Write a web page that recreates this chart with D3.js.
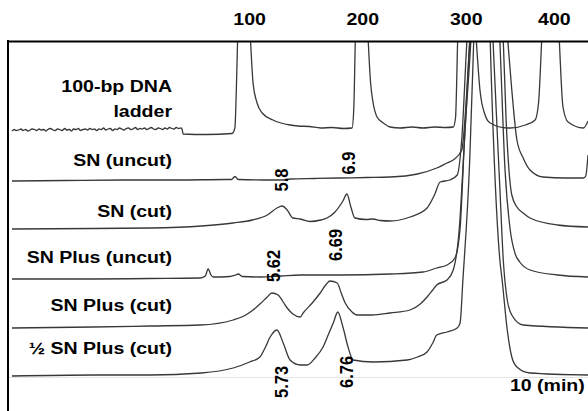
<!DOCTYPE html>
<html>
<head>
<meta charset="utf-8">
<script src="https://cdn.jsdelivr.net/npm/d3@7"></script>
<style>
  body { margin: 0; background: #fff; }
  text { font-family: "Liberation Sans", Arial, sans-serif; font-weight: bold; fill: #000; }
</style>
</head>
<body>
<svg id="chart" width="588" height="411"></svg>
<script>
// ladder peak sizes (bp) and the time (min) each sits at
var bpLabels = [100, 200, 300, 400];
var bpTimes = [5.24, 7.23, 9.05, 10.6];

var traceNames = [["100-bp DNA", "ladder"], ["SN (uncut)"], ["SN (cut)"], ["SN Plus (uncut)"], ["SN Plus (cut)"], ["\u00bd SN Plus (cut)"]];
// vertical stacking offset of each trace, signal units
var traceOffsets = [246, 196, 147, 97, 48, 1];
var labelLevels = [[284, 259], [210], [159], [113], [65], [22]];

// [time (min), signal]
var ladder = [[1.07,-1],[1.11,0.5],[1.14,-0.5],[1.19,0],[1.23,1],[1.26,-0.5],[1.31,0.5],[1.35,-1],[1.39,0],[1.42,1],
  [1.47,0.5],[1.5,-0.5],[1.55,1],[1.58,0],[1.63,0.5],[1.67,-1],[1.7,0.5],[1.75,1.5],[1.79,0],[1.83,-0.5],[1.87,1],
  [1.91,0.5],[1.95,-0.5],[2.0,1.5],[2.03,0],[2.08,0.5],[2.12,-1],[2.15,1],[2.2,0.5],[2.24,1.5],[2.27,-0.5],[2.32,0.5],
  [2.36,1],[2.4,0],[2.44,1.5],[2.48,0.5],[2.52,1],[2.56,-0.5],[2.6,1],[2.64,0.5],[2.68,2],[2.72,0],[2.76,1],[2.8,1.5],
  [2.84,-0.5],[2.88,1],[2.92,0.5],[2.96,2],[3.0,1],[3.04,0],[3.08,1.5],[3.12,2],[3.16,0.5],[3.2,1],[3.24,2.5],
  [3.28,0.5],[3.32,1.5],[3.36,1],[3.4,2],[3.44,0.5],[3.48,1.5],[3.52,2.5],[3.56,1],[3.6,0.5],[3.64,2],[3.68,1.5],
  [3.72,0.5],[3.76,2],[3.8,1],[3.84,2.5],[3.88,1.5],[3.92,1],[3.96,2.5],[4.0,1.5],[4.04,2],[4.06,1],[4.08,-4],
  [4.5,-4.5],[4.94,-3.5],[4.99,2],[5.02,50],[5.04,95],[5.14,250],[5.26,95],[5.31,47],[5.38,27],[5.47,17],[5.66,10],
  [5.96,5],[6.1,4],[6.3,3.5],[6.5,2],[6.7,2.5],[6.9,1.5],[7.05,2],[7.08,20],[7.11,95],[7.22,250],[7.33,95],[7.38,45],
  [7.49,13],[7.6,7],[7.72,3],[7.9,2],[8.1,3],[8.3,2],[8.5,3],[8.7,2.5],[8.83,3],[8.87,12],[8.91,95],[9.07,280],
  [9.23,95],[9.3,40],[9.39,15],[9.48,7],[9.78,2],[9.83,2],[10.1,5],[10.27,10],[10.33,27],[10.39,95],[10.53,250],
  [10.69,95],[10.76,23],[10.85,8],[11.12,2],[11.2,9]];

var snUncut = [[1.07,-1],[2.0,-0.5],[3.0,0],[4.0,0],[4.82,0.5],[4.93,0.5],[4.99,3.5],[5.05,0.5],[5.5,0],[5.84,0],
  [5.96,1],[6.4,1.5],[6.84,2],[7.3,2.5],[7.72,3],[8.2,6],[8.54,12],[8.72,17],[8.83,20],[8.98,30],[9.07,90],[9.12,139],
  [9.45,420],[9.79,139],[9.86,90],[9.95,40],[10.06,22],[10.18,10],[10.41,3],[10.8,2],[11.12,2],[11.16,4],[11.2,25]];

var snCut = [[1.07,0],[2.5,0.5],[3.5,1],[4.4,3],[4.96,6],[5.3,9],[5.56,14],[5.73,21],[5.82,23],[5.91,19],[6.01,11],
  [6.14,10],[6.31,7.5],[6.5,9],[6.61,11],[6.75,17],[6.89,28],[6.96,35],[7.03,22],[7.1,11],[7.3,9.5],[7.42,10],
  [7.55,8.5],[7.72,8],[8.07,12],[8.37,21],[8.5,34],[8.6,47],[8.77,49],[8.9,54],[8.98,90],[9.07,188],[9.4,380],
  [9.71,188],[9.76,109],[9.81,59],[9.86,34],[9.95,22],[10.06,16],[10.18,11],[10.66,4],[11.2,2]];

var snPlusUncut = [[1.07,0],[2.5,0],[3.5,0.5],[4.38,1],[4.47,3],[4.52,10],[4.57,4],[4.61,2],[4.9,2.5],[5.0,4],
  [5.05,5],[5.12,2.5],[5.43,2],[5.8,3],[6.14,4],[6.84,4],[7.72,5],[8.3,7],[8.54,11],[8.72,14],[8.86,21],[8.95,50],
  [9.02,130],[9.12,238],[9.4,480],[9.65,238],[9.74,110],[9.83,50],[9.92,25],[10.0,17],[10.18,9],[10.66,4],[11.2,2]];

var snPlusCut = [[1.07,0],[2.5,1],[3.5,2],[4.38,3],[4.96,8],[5.15,12],[5.31,18],[5.45,25],[5.56,31],[5.64,35],
  [5.75,33],[5.84,26],[5.91,20],[6.01,14],[6.14,11],[6.19,15],[6.35,25],[6.49,35],[6.6,44],[6.66,47],[6.79,45],
  [6.86,35],[6.93,25],[7.05,16],[7.14,13],[7.4,13],[7.72,15],[8.07,18],[8.25,24],[8.37,31],[8.47,38],[8.54,43],
  [8.72,48],[8.83,58],[8.93,95],[9.04,200],[9.14,287],[9.35,560],[9.53,287],[9.65,140],[9.71,68],[9.78,28],
  [9.86,13],[10.06,3],[11.2,0]];

var halfSnPlusCut = [[1.07,-1],[2.5,0],[3.5,0],[4.4,2],[4.96,7],[5.25,13],[5.43,18],[5.52,27],[5.61,38],[5.73,45],
  [5.84,32],[5.96,15],[6.14,10],[6.26,10],[6.4,17],[6.54,28],[6.63,40],[6.72,52],[6.8,63],[6.89,48],[6.98,28],
  [7.07,15],[7.42,13],[8.02,15],[8.2,18],[8.37,23],[8.47,32],[8.54,40],[8.72,43],[8.9,47],[8.95,52],[9.0,95],
  [9.12,215],[9.19,334],[9.35,650],[9.48,334],[9.65,115],[9.69,95],[9.78,45],[9.86,18],[9.95,8],[10.18,2],[11.2,0]];

var traces = [ladder, snUncut, snCut, snPlusUncut, snPlusCut, halfSnPlusCut];

// migration times written on the peaks, where each label sits
var peakLabels = ["5.8", "6.9", "5.62", "6.69", "5.73", "6.76"];
var peakLabelTimes = [5.82, 7.0, 5.67, 6.76, 5.82, 6.96];
var peakLabelLevels = [196, 213, 110, 131, -6, 4];

var svg = d3.select("#chart"),
  width = +svg.attr("width"),
  height = +svg.attr("height"),
  margin = { top: 41, left: 8 };

var x = d3.scaleLinear().domain([1, 11.2]).range([margin.left, width]);
var y = d3.scaleLinear().domain([0, 335]).range([376, margin.top]);
var stretch = "scale(1.15,1)";

svg.append("clipPath").attr("id", "plot-clip")
  .append("rect")
    .attr("x", margin.left)
    .attr("y", margin.top)
    .attr("width", width - margin.left)
    .attr("height", height - margin.top);

// faint time axis
var bottomAxis = svg.append("g")
    .attr("transform", "translate(0," + (y(0) + 1) + ")")
    .call(d3.axisBottom(x).tickValues([10]).tickSize(0).tickPadding(2)
      .tickFormat(d => d + " (min)"));
bottomAxis.select(".domain").attr("stroke", "#e4e4e4");
bottomAxis.selectAll("text")
    .attr("font-size", 17)
    .attr("text-anchor", "start")
    .attr("x", -9)
    .attr("transform", stretch);

var line = d3.line()
  .x(d => x(d[0]))
  .curve(d3.curveMonotoneX);

var plot = svg.append("g").attr("clip-path", "url(#plot-clip)");
traces.forEach(function(tr, i) {
  plot.append("path")
    .attr("fill", "none")
    .attr("stroke", "#383838")
    .attr("stroke-width", 1.3)
    .attr("stroke-linejoin", "round")
    .attr("d", line.y(d => y(d[1] + traceOffsets[i]))(tr));
});

// top axis: ladder sizes, its domain doubles as the frame
var topAxis = svg.append("g")
    .attr("transform", "translate(0," + margin.top + ")")
    .call(d3.axisTop(x).tickValues(bpTimes).tickSize(0).tickSizeOuter(0).tickPadding(16)
      .tickFormat((d, i) => bpLabels[i]));
topAxis.select(".domain").attr("stroke", "#000").attr("stroke-width", 2);
topAxis.selectAll("text")
    .attr("font-size", 17)
    .attr("transform", stretch);

svg.append("line")
    .attr("x1", margin.left).attr("x2", margin.left)
    .attr("y1", margin.top - 1).attr("y2", height)
    .attr("stroke", "#000")
    .attr("stroke-width", 2);

// trace names
traceNames.forEach(function(lines, i) {
  lines.forEach(function(txt, j) {
    svg.append("text")
      .attr("transform", "translate(172," + y(labelLevels[i][j]) + ") " + stretch)
      .attr("text-anchor", "end")
      .attr("font-size", 17)
      .text(txt);
  });
});

// rotated peak times
peakLabels.forEach(function(txt, i) {
  svg.append("text")
    .attr("transform", "translate(" + (x(peakLabelTimes[i]) + 6) + "," + y(peakLabelLevels[i]) + ") " + stretch + " rotate(-90)")
    .attr("text-anchor", "middle")
    .attr("font-size", 16.5)
    .text(txt);
});
</script>
</body>
</html>
